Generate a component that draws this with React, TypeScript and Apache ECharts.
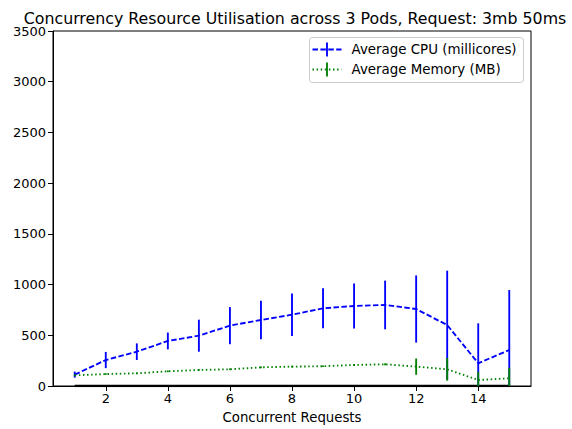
import React, { useEffect, useRef } from "react";
import * as echarts from "echarts";

const concurrency = [1, 2, 3, 4, 5, 6, 7, 8, 9, 10, 11, 12, 13, 14, 15];
const cpuMean = [112, 256, 338, 444, 496, 595, 651, 703, 766, 789, 799, 759, 601, 224, 355];
const cpuErr = [30, 80, 82, 83, 158, 183, 190, 209, 197, 222, 240, 331, 536, 394, 591];
const memMean = [105, 118, 125, 145, 158, 165, 184, 191, 195, 207, 214, 191, 165, 59, 76];
const memErr = [8, 8, 8, 8, 8, 8, 8, 8, 8, 10, 10, 80, 112, 82, 104];
const baseline = [0, 0, 0, 0, 0, 0, 0, 0, 0, 0, 0, 0, 0, 0, 0];
const xTicks = [2, 4, 6, 8, 10, 12, 14];

const FONT = "DejaVu Sans";
const LW = 1.86;

function errorSeries(name: string, means: number[], errs: number[], color: string) {
  return {
    type: "custom",
    name,
    clip: true,
    silent: true,
    data: concurrency.map((x, i) => [x, means[i], errs[i]]),
    renderItem: (params: any, api: any) => {
      const x = api.value(0);
      const m = api.value(1);
      const e = api.value(2);
      const top = api.coord([x, m + e]);
      const bot = api.coord([x, Math.max(0, m - e)]);
      return {
        type: "line",
        shape: { x1: top[0], y1: top[1], x2: bot[0], y2: bot[1] },
        style: { stroke: color, lineWidth: LW },
      };
    },
  };
}

export default function App() {
  const ref = useRef<HTMLDivElement>(null);
  useEffect(() => {
    if (!ref.current) return;
    const chart = echarts.init(ref.current, null, { renderer: "svg" });
    chart.setOption({
      animation: false,
      backgroundColor: "#fff",
      title: {
        text: "Concurrency Resource Utilisation across 3 Pods, Request: 3mb 50ms",
        left: 290,
        textAlign: "center",
        top: 5,
        textStyle: { fontFamily: FONT, fontSize: 15.8, fontWeight: "normal", color: "#000" },
      },
      grid: {
        left: 53,
        right: 41,
        top: 31,
        bottom: 43,
        show: true,
        borderColor: "#000",
        borderWidth: 1,
        backgroundColor: "transparent",
      },
      xAxis: {
        type: "value",
        min: 0.3,
        max: 15.7,
        name: "Concurrent Requests",
        nameLocation: "middle",
        nameGap: 25,
        nameTextStyle: { fontFamily: FONT, fontSize: 13.3, color: "#000" },
        axisLine: { show: true, onZero: false, lineStyle: { color: "#000", width: 1 } },
        axisTick: { show: true, inside: false, length: 5, lineStyle: { color: "#000" }, customValues: xTicks },
        axisLabel: { fontFamily: FONT, fontSize: 13, color: "#000", margin: 6, customValues: xTicks },
        splitLine: { show: false },
      },
      yAxis: {
        type: "value",
        min: 0,
        max: 3500,
        interval: 500,
        axisLine: { show: true, lineStyle: { color: "#000", width: 1 } },
        axisTick: { show: true, inside: false, length: 5, lineStyle: { color: "#000" } },
        axisLabel: { fontFamily: FONT, fontSize: 13, color: "#000", margin: 7, formatter: (v: number) => String(v) },
        splitLine: { show: false },
      },
      series: [
        {
          type: "line",
          name: "baseline",
          data: concurrency.map((x, i) => [x, baseline[i]]),
          symbol: "none",
          lineStyle: { color: "#000", width: 2.6 },
          z: 1,
        },
        {
          type: "line",
          name: "Average CPU (millicores)",
          data: concurrency.map((x, i) => [x, cpuMean[i]]),
          symbol: "none",
          lineStyle: { color: "#0000ff", width: LW, type: [5.5, 2.4] },
          z: 2,
        },
        { ...errorSeries("CPU err", cpuMean, cpuErr, "#0000ff"), z: 3 },
        {
          type: "line",
          name: "Average Memory (MB)",
          data: concurrency.map((x, i) => [x, memMean[i]]),
          symbol: "none",
          lineStyle: { color: "#008000", width: LW, type: [1.5, 2.6] },
          z: 4,
        },
        { ...errorSeries("Mem err", memMean, memErr, "#008000"), z: 5 },
      ],
      graphic: [
        {
          type: "group",
          right: 48,
          top: 37,
          children: [
            {
              type: "rect",
              shape: { x: 0, y: 0, width: 214, height: 45, r: 3 },
              style: { fill: "rgba(255,255,255,0.8)", stroke: "#cccccc", lineWidth: 1 },
            },
            {
              type: "line",
              shape: { x1: 3, y1: 12, x2: 32, y2: 12 },
              style: { stroke: "#0000ff", lineWidth: LW, lineDash: [5.5, 2.4] },
            },
            {
              type: "line",
              shape: { x1: 17.5, y1: 5, x2: 17.5, y2: 19 },
              style: { stroke: "#0000ff", lineWidth: LW },
            },
            {
              type: "text",
              x: 42,
              y: 12,
              style: { text: "Average CPU (millicores)", font: `13.4px "${FONT}"`, fill: "#000", verticalAlign: "middle" },
            },
            {
              type: "line",
              shape: { x1: 3, y1: 32, x2: 32, y2: 32 },
              style: { stroke: "#008000", lineWidth: LW, lineDash: [1.5, 2.6] },
            },
            {
              type: "line",
              shape: { x1: 17.5, y1: 25, x2: 17.5, y2: 39 },
              style: { stroke: "#008000", lineWidth: LW },
            },
            {
              type: "text",
              x: 42,
              y: 32,
              style: { text: "Average Memory (MB)", font: `13.4px "${FONT}"`, fill: "#000", verticalAlign: "middle" },
            },
          ],
        },
      ],
    });
    return () => chart.dispose();
  }, []);
  return <div ref={ref} style={{ width: 572, height: 429, position: "absolute", left: 0, top: 0 }} />;
}
